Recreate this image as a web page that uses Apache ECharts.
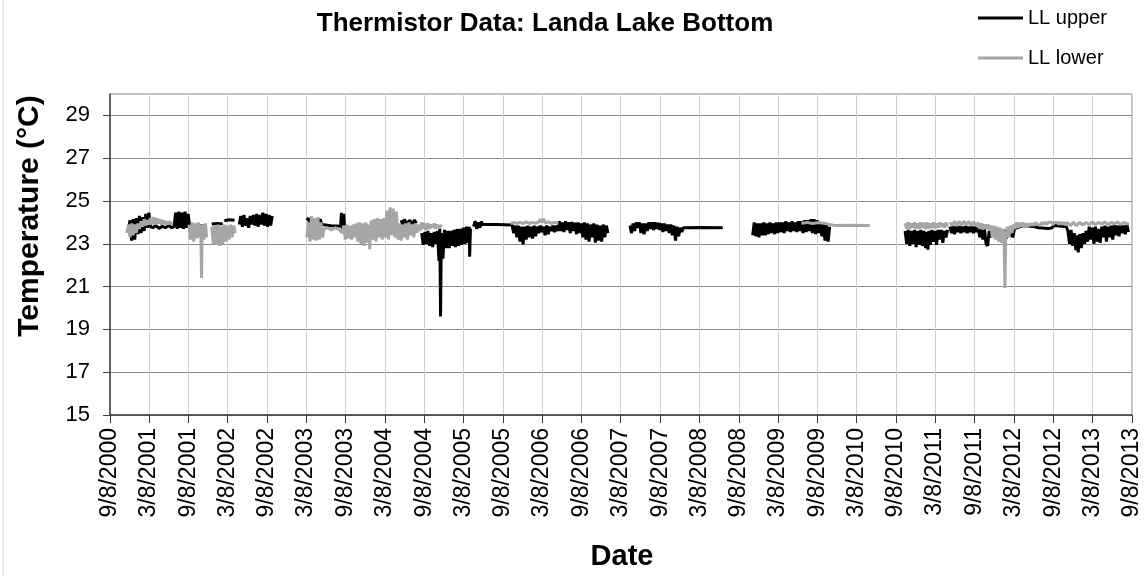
<!DOCTYPE html>
<html>
<head>
<meta charset="utf-8">
<script src="https://cdn.jsdelivr.net/npm/echarts@6.0.0/dist/echarts.min.js"></script>
<style>
html,body{margin:0;padding:0;background:#fff;}
#chart{width:1146px;height:576px;}
</style>
</head>
<body>
<div id="chart"></div>
<script>
// ---- Data (decimal year, °C); null marks a gap in the record ----
const chartTitle = 'Thermistor Data: Landa Lake Bottom';
const seriesNames = ['LL upper', 'LL lower'];
const yTicks = [15, 17, 19, 21, 23, 25, 27, 29];
const xTickLabels = ['9/8/2000','3/8/2001','9/8/2001','3/8/2002','9/8/2002','3/8/2003','9/8/2003','3/8/2004','9/8/2004','3/8/2005','9/8/2005','3/8/2006','9/8/2006','3/8/2007','9/8/2007','3/8/2008','9/8/2008','3/8/2009','9/8/2009','3/8/2010','9/8/2010','3/8/2011','9/8/2011','3/8/2012','9/8/2012','3/8/2013','9/8/2013'];

const llUpper = [
[2000.92,23.7],[2000.94,24.1],[2000.96,23.15],[2000.98,24.15],[2001.00,23.2],[2001.02,24.2],[2001.04,23.45],[2001.06,24.3],[2001.08,23.5],[2001.10,24.25],[2001.12,23.6],[2001.14,24.4],[2001.16,23.75],[2001.18,24.45],[2001.20,23.8],[2001.23,23.75],[2001.27,23.85],[2001.31,23.72],[2001.35,23.82],[2001.39,23.75],[2001.43,23.85],[2001.47,23.75],[2001.50,23.8],[2001.52,24.45],[2001.54,23.7],[2001.56,24.5],[2001.58,23.75],[2001.60,24.45],[2001.62,23.7],[2001.64,24.5],[2001.66,23.75],[2001.68,24.4],[2001.70,23.8],[2001.75,23.85],[2001.80,23.8],[2001.85,23.85],[2001.90,23.8],[2001.93,null],
[2001.98,23.92],[2002.05,23.95],[2002.12,23.92],[2002.13,null],[2002.14,24.08],[2002.20,24.12],[2002.27,24.1],[2002.30,null],
[2002.33,23.9],[2002.35,24.3],[2002.37,23.8],[2002.39,24.35],[2002.41,23.85],[2002.43,24.2],[2002.45,23.75],[2002.47,24.3],[2002.49,23.9],[2002.51,24.35],[2002.53,23.85],[2002.55,24.4],[2002.57,23.8],[2002.59,24.35],[2002.61,23.9],[2002.63,24.45],[2002.65,23.85],[2002.67,24.4],[2002.69,23.8],[2002.71,24.35],[2002.73,23.85],[2002.75,24.3],[2002.77,null],
[2003.19,24.1],[2003.21,24.2],[2003.23,23.9],[2003.28,23.85],[2003.33,23.9],[2003.36,24.15],[2003.38,23.9],[2003.40,23.83],[2003.50,23.84],[2003.62,23.82],[2003.63,24.45],[2003.645,23.7],[2003.66,24.4],[2003.67,23.8],[2003.68,null],
[2004.39,24.1],[2004.41,23.9],[2004.43,24.14],[2004.46,23.95],[2004.50,24.1],[2004.53,23.9],[2004.56,24.12],[2004.58,23.95],[2004.60,null],
[2004.65,23.5],[2004.67,22.95],[2004.69,23.55],[2004.71,23.0],[2004.73,23.6],[2004.75,22.9],[2004.77,23.5],[2004.79,22.85],[2004.81,23.55],[2004.83,23.0],[2004.85,23.6],[2004.87,22.2],[2004.88,23.7],[2004.89,19.6],[2004.90,23.5],[2004.92,22.3],[2004.94,23.65],[2004.96,22.8],[2004.98,23.6],[2005.00,22.8],[2005.02,23.6],[2005.04,22.9],[2005.06,23.65],[2005.08,22.85],[2005.10,23.7],[2005.12,22.9],[2005.14,23.7],[2005.16,22.95],[2005.18,23.75],[2005.20,23.0],[2005.22,23.8],[2005.24,23.05],[2005.255,23.8],[2005.26,22.4],[2005.27,23.7],[2005.28,null],
[2005.31,23.8],[2005.33,24.06],[2005.35,23.7],[2005.37,24.0],[2005.39,23.75],[2005.41,24.05],[2005.42,23.9],[2005.60,23.9],[2005.80,23.88],
[2005.82,23.5],[2005.84,23.85],[2005.86,23.3],[2005.88,23.85],[2005.90,23.1],[2005.92,23.8],[2005.94,22.97],[2005.96,23.8],[2005.98,23.2],[2006.00,23.85],[2006.02,23.3],[2006.04,23.8],[2006.06,23.25],[2006.08,23.85],[2006.10,23.35],[2006.12,23.8],[2006.14,23.5],[2006.16,23.85],[2006.18,23.55],[2006.20,23.8],[2006.22,23.4],[2006.24,23.85],[2006.26,23.45],[2006.28,23.8],[2006.30,23.6],[2006.32,23.85],[2006.34,23.55],[2006.36,23.85],[2006.38,23.6],
[2006.40,24.05],[2006.42,23.6],[2006.44,24.0],[2006.46,23.55],[2006.48,24.05],[2006.50,23.65],[2006.52,24.0],[2006.54,23.5],[2006.56,24.02],[2006.58,23.6],[2006.60,23.98],[2006.62,23.45],[2006.64,24.0],[2006.66,23.5],[2006.68,23.95],[2006.70,23.3],[2006.72,24.0],[2006.74,23.2],[2006.76,23.95],[2006.78,23.1],[2006.80,23.9],[2006.82,23.3],[2006.84,23.95],[2006.86,23.05],[2006.88,23.9],[2006.90,23.15],[2006.92,23.85],[2006.94,23.1],[2006.96,23.9],[2006.98,23.3],[2007.00,23.85],[2007.02,23.5],[2007.03,null],
[2007.30,23.85],[2007.32,23.5],[2007.34,23.95],[2007.36,23.6],[2007.38,24.0],[2007.40,23.75],[2007.42,24.0],[2007.44,23.5],[2007.46,23.95],[2007.48,23.45],[2007.50,23.95],[2007.52,23.6],[2007.54,24.0],[2007.56,23.7],[2007.58,24.0],[2007.60,23.65],[2007.62,24.0],[2007.64,23.7],[2007.66,23.98],[2007.68,23.65],[2007.70,23.95],[2007.72,23.55],[2007.74,23.95],[2007.76,23.6],[2007.78,23.9],[2007.80,23.5],[2007.82,23.9],[2007.84,23.4],[2007.86,23.85],[2007.88,23.15],[2007.90,23.8],[2007.92,23.35],[2007.94,23.75],[2007.96,23.55],[2007.98,23.75],[2008.20,23.76],[2008.48,23.75],[2008.49,null],
[2008.86,23.4],[2008.88,24.0],[2008.90,23.35],[2008.92,23.95],[2008.94,23.3],[2008.96,23.95],[2008.98,23.4],[2009.00,24.0],[2009.02,23.4],[2009.04,23.95],[2009.06,23.45],[2009.08,24.0],[2009.10,23.5],[2009.12,23.95],[2009.14,23.45],[2009.16,24.0],[2009.18,23.5],[2009.20,24.0],[2009.22,23.55],[2009.24,24.0],[2009.26,23.5],[2009.28,24.05],[2009.30,23.6],[2009.32,24.0],[2009.34,23.55],[2009.36,24.05],[2009.38,23.6],[2009.40,24.0],[2009.42,23.55],[2009.44,24.05],[2009.46,23.6],[2009.48,24.05],[2009.50,23.5],[2009.52,24.1],[2009.54,23.55],[2009.56,24.1],[2009.58,23.6],[2009.60,24.15],[2009.62,23.5],[2009.64,24.15],[2009.66,23.45],[2009.68,24.1],[2009.70,23.5],[2009.72,24.0],[2009.74,23.35],[2009.76,23.95],[2009.78,23.15],[2009.80,23.9],[2009.82,23.1],[2009.84,23.8],[2009.85,null],
[2010.80,23.6],[2010.82,23.0],[2010.84,23.65],[2010.86,22.9],[2010.88,23.6],[2010.90,23.0],[2010.92,23.65],[2010.94,22.85],[2010.96,23.6],[2010.98,22.95],[2011.00,23.65],[2011.02,22.9],[2011.04,23.6],[2011.06,22.8],[2011.08,23.55],[2011.09,22.72],[2011.10,23.6],[2011.12,22.95],[2011.14,23.65],[2011.16,23.1],[2011.18,23.6],[2011.20,22.95],[2011.22,23.65],[2011.24,23.2],[2011.26,23.65],[2011.28,23.05],[2011.30,23.6],[2011.32,23.3],[2011.34,23.65],[2011.35,null],
[2011.37,23.8],[2011.39,23.5],[2011.41,23.83],[2011.43,23.45],[2011.45,23.8],[2011.47,23.55],[2011.49,23.83],[2011.51,23.5],[2011.53,23.8],[2011.55,23.55],[2011.57,23.83],[2011.59,23.5],[2011.61,23.8],[2011.63,23.55],[2011.65,23.82],[2011.67,23.5],[2011.69,23.8],[2011.71,23.55],
[2011.73,23.75],[2011.75,23.3],[2011.77,23.7],[2011.79,23.2],[2011.81,23.7],[2011.83,23.0],[2011.85,22.9],[2011.87,23.6],[2011.89,23.3],
[2011.91,23.7],[2011.93,23.4],[2011.95,23.7],[2011.97,23.5],[2011.99,23.7],[2012.01,23.35],[2012.03,23.6],[2012.05,23.3],[2012.07,23.65],[2012.09,23.25],[2012.11,23.6],[2012.13,23.35],[2012.15,23.65],[2012.17,23.3],[2012.19,23.7],
[2012.30,23.85],[2012.45,23.8],[2012.50,23.75],[2012.52,23.82],[2012.62,23.72],[2012.66,23.74],[2012.70,23.85],[2012.85,23.8],
[2012.87,23.6],[2012.89,23.0],[2012.91,23.65],[2012.93,22.9],[2012.95,23.5],[2012.97,22.7],[2012.99,23.4],[2013.00,22.6],[2013.02,23.45],[2013.04,22.8],[2013.06,23.5],[2013.08,23.0],[2013.10,23.6],[2013.12,23.1],
[2013.14,23.8],[2013.16,23.2],[2013.18,23.75],[2013.20,23.0],[2013.22,23.8],[2013.24,23.1],[2013.26,23.7],[2013.28,23.05],[2013.30,23.8],[2013.32,23.3],[2013.34,23.85],[2013.36,23.1],[2013.38,23.8],[2013.40,23.3],[2013.42,23.85],[2013.44,23.2],[2013.46,23.9],[2013.48,23.4],[2013.50,23.85],[2013.52,23.35],[2013.54,23.9],[2013.56,23.5],[2013.58,23.85],[2013.60,23.45],[2013.62,23.9],[2013.64,23.55]
];

const llLower = [
[2000.90,23.5],[2000.92,23.9],[2000.94,23.3],[2000.96,23.95],[2000.98,23.4],[2001.00,23.9],[2001.02,23.5],[2001.04,23.95],[2001.06,23.7],[2001.08,24.05],[2001.10,23.8],[2001.12,24.15],[2001.14,23.85],[2001.16,24.1],[2001.18,23.9],[2001.20,24.2],[2001.22,23.9],[2001.24,24.25],[2001.26,23.9],[2001.28,24.2],[2001.30,23.95],[2001.32,24.15],[2001.34,23.9],[2001.36,24.1],[2001.38,23.92],[2001.40,24.05],[2001.42,23.9],[2001.44,24.05],[2001.46,23.92],[2001.48,24.0],[2001.50,null],
[2001.69,23.9],[2001.71,23.2],[2001.73,24.0],[2001.75,23.1],[2001.77,23.95],[2001.79,23.25],[2001.81,24.0],[2001.83,23.3],[2001.84,23.9],[2001.85,21.4],[2001.86,23.9],[2001.88,23.2],[2001.90,23.95],[2001.915,23.3],[2001.93,null],
[2001.98,23.8],[2002.00,23.0],[2002.02,23.85],[2002.04,22.95],[2002.06,23.9],[2002.08,22.9],[2002.10,23.8],[2002.12,23.0],[2002.14,23.9],[2002.16,23.1],[2002.18,23.85],[2002.20,23.2],[2002.22,23.9],[2002.24,23.3],[2002.26,23.85],[2002.28,23.5],[2002.29,null],
[2003.19,23.3],[2003.21,24.0],[2003.23,23.1],[2003.25,24.3],[2003.27,23.2],[2003.29,24.2],[2003.31,23.15],[2003.33,24.25],[2003.35,23.2],[2003.37,24.0],[2003.39,23.3],[2003.41,23.7],
[2003.45,23.75],[2003.50,23.65],[2003.55,23.75],[2003.60,23.68],
[2003.64,23.5],[2003.66,23.85],[2003.68,23.2],[2003.70,23.9],[2003.72,23.25],[2003.74,23.85],[2003.76,23.2],[2003.78,23.9],[2003.80,23.3],[2003.82,23.95],
[2003.84,23.1],[2003.86,24.0],[2003.88,23.0],[2003.90,23.95],[2003.92,22.9],[2003.94,24.0],[2003.96,23.05],[2003.98,23.9],[2003.99,22.75],
[2004.01,24.1],[2004.03,23.2],[2004.05,24.15],[2004.07,23.1],[2004.09,24.2],[2004.11,23.3],[2004.13,24.15],[2004.15,23.2],[2004.17,24.2],
[2004.19,23.3],[2004.21,24.55],[2004.23,23.2],[2004.25,24.7],[2004.27,23.4],[2004.29,24.65],[2004.31,23.3],[2004.33,24.5],
[2004.35,23.2],[2004.37,23.95],[2004.39,23.15],[2004.41,23.9],[2004.43,23.3],[2004.45,23.95],[2004.47,23.2],[2004.49,24.0],[2004.51,23.4],[2004.53,23.9],[2004.55,23.3],[2004.57,23.95],[2004.59,23.5],[2004.61,23.9],[2004.63,23.6],
[2004.65,24.0],[2004.67,23.7],[2004.69,23.95],[2004.71,23.65],[2004.73,23.95],[2004.75,23.7],[2004.77,23.9],[2004.79,23.75],[2004.81,23.95],[2004.83,23.7],[2004.85,23.9],[2004.87,23.75],[2004.89,23.85],[2004.91,23.8],[2004.93,null],
[2005.78,23.95],[2005.82,24.0],[2005.86,23.95],[2005.90,24.0],[2005.94,23.95],[2005.98,24.02],[2006.02,23.95],[2006.06,24.0],[2006.10,23.96],[2006.14,24.02],[2006.16,24.15],[2006.18,24.0],[2006.20,24.17],[2006.22,23.98],[2006.26,24.02],[2006.30,23.95],[2006.34,24.0],[2006.39,23.95],[2006.40,null],
[2009.48,23.95],[2009.55,24.0],[2009.62,23.95],[2009.70,24.0],[2009.78,23.95],[2009.84,23.9],[2009.90,23.86],[2010.10,23.87],[2010.35,23.86],[2010.36,null],
[2010.80,23.95],[2010.82,23.7],[2010.84,24.0],[2010.86,23.7],[2010.88,23.95],[2010.90,23.75],[2010.92,24.0],[2010.94,23.7],[2010.96,23.95],[2010.98,23.7],[2011.00,24.0],[2011.02,23.75],[2011.04,23.98],[2011.06,23.7],[2011.08,24.0],[2011.10,23.7],[2011.12,23.95],[2011.14,23.75],[2011.16,24.0],[2011.18,23.72],[2011.20,23.95],[2011.22,23.75],[2011.24,24.0],[2011.26,23.8],[2011.28,23.95],[2011.30,23.75],[2011.32,24.0],[2011.34,23.8],[2011.35,null],
[2011.37,24.0],[2011.40,23.85],[2011.43,24.05],[2011.46,23.85],[2011.49,24.05],[2011.52,23.85],[2011.55,24.06],[2011.58,23.88],[2011.61,24.05],[2011.64,23.85],[2011.67,24.03],[2011.70,23.85],
[2011.73,23.98],[2011.75,23.7],[2011.77,23.95],[2011.79,23.67],[2011.81,23.9],[2011.83,23.7],[2011.85,23.9],[2011.87,23.65],
[2011.89,23.85],[2011.91,23.3],[2011.93,23.85],[2011.95,23.2],[2011.97,23.8],[2011.99,23.1],[2012.01,23.75],[2012.03,23.05],[2012.05,23.7],[2012.06,23.1],[2012.07,20.94],[2012.08,23.2],[2012.10,23.8],[2012.12,23.3],[2012.14,23.85],[2012.16,23.5],[2012.18,23.9],
[2012.20,23.7],[2012.22,24.0],[2012.24,23.75],[2012.26,23.98],[2012.28,23.8],[2012.30,24.0],[2012.32,23.75],[2012.34,23.95],[2012.36,23.8],[2012.38,23.95],[2012.40,23.85],[2012.42,23.95],[2012.44,23.85],[2012.46,24.0],[2012.48,23.9],[2012.50,23.95],[2012.52,23.88],[2012.54,24.0],[2012.56,23.9],[2012.58,24.02],[2012.60,23.9],[2012.62,24.0],[2012.64,23.92],[2012.66,24.02],[2012.68,23.9],[2012.70,24.0],[2012.72,23.92],[2012.74,24.0],[2012.76,23.9],[2012.78,24.02],[2012.80,23.9],[2012.82,24.0],[2012.84,23.88],[2012.86,24.0],
[2012.90,23.85],[2012.94,24.0],[2012.98,23.85],[2013.02,24.0],[2013.06,23.88],[2013.10,24.0],[2013.14,23.9],[2013.18,24.02],[2013.22,23.9],[2013.26,24.0],[2013.30,23.92],[2013.34,24.02],[2013.38,23.9],[2013.42,24.0],[2013.46,23.92],[2013.50,24.02],[2013.54,23.9],[2013.58,24.0],[2013.62,23.92],[2013.64,24.0]
];

// ---- helpers: unit conversion only ----
function yearToMs(v) {
  const y = Math.floor(v);
  const s = Date.UTC(y, 0, 1), e = Date.UTC(y + 1, 0, 1);
  return s + (v - y) * (e - s);
}
function labelToMs(lbl) {
  const p = lbl.split('/').map(Number);
  return Date.UTC(p[2], p[0] - 1, p[1]);
}
function toSeries(arr) {
  return arr.map(d => [yearToMs(d[0]), d[1] === null ? '-' : d[1]]);
}
const xTickValues = xTickLabels.map(labelToMs);
const labelByMs = {};
xTickLabels.forEach((l, i) => { labelByMs[xTickValues[i]] = l; });

const FONT = '"Liberation Sans", Arial, sans-serif';
const chart = echarts.init(document.getElementById('chart'), null, {renderer: 'canvas'});
chart.setOption({
  animation: false,
  backgroundColor: '#ffffff',
  title: {
    text: chartTitle, left: 540, top: 6, textAlign: 'center',
    textStyle: {fontFamily: FONT, fontSize: 26, fontWeight: 'bold', color: '#000'}
  },
  legend: {
    orient: 'vertical', left: 978, top: 8, padding: 0, itemWidth: 45, itemHeight: 3, itemGap: 20,
    icon: 'rect',
    textStyle: {fontFamily: FONT, fontSize: 20, color: '#000', lineHeight: 20, height: 20},
    data: seriesNames
  },
  grid: {left: 110, right: 14, top: 94, bottom: 161, show: true, borderColor: '#868686', borderWidth: 1},
  xAxis: {
    type: 'value',
    min: xTickValues[0], max: xTickValues[xTickValues.length - 1],
    axisLine: {show: true, lineStyle: {color: '#404040', width: 1.5}},
    axisTick: {show: true, length: 8, customValues: xTickValues, lineStyle: {color: '#404040'}},
    axisLabel: {
      customValues: xTickValues, rotate: 90, margin: 13,
      fontFamily: FONT, fontSize: 23, color: '#000',
      formatter: v => labelByMs[v] || ''
    },
    splitLine: {show: true, lineStyle: {color: '#d0d0d0', width: 1}}
  },
  yAxis: {
    type: 'value', min: 15, max: 30,
    axisLine: {show: true, lineStyle: {color: '#404040', width: 1.5}},
    axisTick: {show: true, length: 7, customValues: yTicks, lineStyle: {color: '#404040'}},
    axisLabel: {customValues: yTicks, margin: 20, fontFamily: FONT, fontSize: 22, color: '#000'},
    splitLine: {show: true, lineStyle: {color: '#8c8c8c', width: 1}}
  },
  graphic: [
    {type: 'rect', shape: {x: 3, y: -5, width: 1160, height: 600}, style: {fill: 'none', stroke: '#d9d9d9', lineWidth: 1}, silent: true},
    {type: 'text', x: 30, y: 216, rotation: Math.PI / 2,
     style: {text: 'Temperature (°C)', font: 'bold 30px ' + FONT, fill: '#000', align: 'center', verticalAlign: 'middle'}},
    {type: 'text', x: 622, y: 557,
     style: {text: 'Date', font: 'bold 29px ' + FONT, fill: '#000', align: 'center', verticalAlign: 'middle'}}
  ],
  series: [
    {name: seriesNames[0], type: 'line', data: toSeries(llUpper), symbol: 'none', connectNulls: false,
     lineStyle: {color: '#000000', width: 3}, itemStyle: {color: '#000000'}},
    {name: seriesNames[1], type: 'line', data: toSeries(llLower), symbol: 'none', connectNulls: false,
     lineStyle: {color: '#a6a6a6', width: 3}, itemStyle: {color: '#a6a6a6'}}
  ]
});
</script>
</body>
</html>
